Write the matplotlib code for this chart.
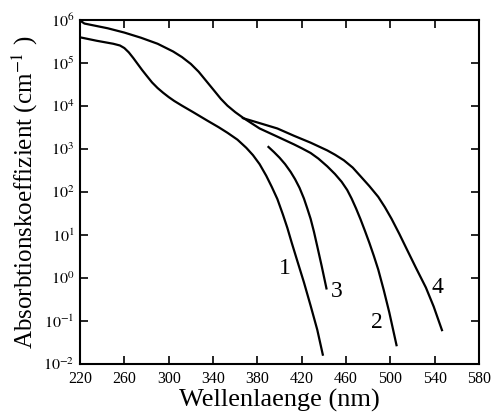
import numpy as np
import matplotlib
matplotlib.use('Agg')
import matplotlib.pyplot as plt
from matplotlib.ticker import FixedLocator, NullLocator, FuncFormatter

plt.rcParams['font.family'] = ['Liberation Serif', 'DejaVu Serif']
plt.rcParams['mathtext.fontset'] = 'stix'

# curve 1 (wavelength nm, log10 of absorption coefficient)
wl1 = [220, 235, 250, 256, 260, 264, 268, 272, 276, 280, 285, 290, 295, 300, 305, 312, 322, 335, 345,
       353, 362, 370, 376, 382, 388, 393, 398, 403, 407, 411, 416, 422, 428, 434, 439]
lg1 = [5.60, 5.52, 5.45, 5.41, 5.35, 5.25, 5.12, 4.98, 4.84, 4.71, 4.55, 4.42, 4.31, 4.21, 4.12, 4.01, 3.86, 3.66, 3.51,
       3.38, 3.22, 3.03, 2.86, 2.65, 2.38, 2.12, 1.84, 1.48, 1.17, 0.82, 0.40, -0.10, -0.64, -1.20, -1.78]

# curve 2
wl2 = [220, 224, 245, 260, 275, 290, 304, 312, 320, 327, 334, 341, 347, 353, 360, 367, 382, 398,
       413, 420, 428, 435, 443, 450, 456, 461, 465, 469, 473, 477, 481, 485, 489, 494, 499, 505.5]
lg2 = [5.99, 5.92, 5.81, 5.71, 5.59, 5.45, 5.27, 5.14, 4.98, 4.80, 4.58, 4.36, 4.17, 4.01, 3.86, 3.73, 3.48, 3.29,
       3.11, 3.02, 2.91, 2.78, 2.60, 2.42, 2.24, 2.05, 1.85, 1.62, 1.37, 1.10, 0.82, 0.52, 0.20, -0.28, -0.80, -1.56]

# curve 3
wl3 = [390, 395, 400, 405, 410, 414, 418, 422, 425, 428, 431, 434, 438, 442.3]
lg3 = [3.05, 2.93, 2.80, 2.65, 2.47, 2.30, 2.10, 1.85, 1.62, 1.38, 1.08, 0.74, 0.28, -0.24]

# curve 4
wl4 = [367, 380, 398, 413, 428, 443, 450, 458, 466, 473, 481, 489, 495, 501, 508, 515, 523, 532, 539, 546.5]
lg4 = [3.72, 3.62, 3.48, 3.31, 3.15, 2.97, 2.87, 2.74, 2.57, 2.37, 2.14, 1.89, 1.65, 1.38, 1.03, 0.66, 0.24, -0.22, -0.66, -1.21]

xticks = [220, 260, 300, 340, 380, 420, 460, 500, 540, 580]
yticks = [1e-2, 1e-1, 1e0, 1e1, 1e2, 1e3, 1e4, 1e5, 1e6]

fig = plt.figure(figsize=(4.97, 4.19), dpi=100)
ax = fig.add_axes([0.161, 0.131, 0.803, 0.821])

for wl, lg in [(wl1, lg1), (wl2, lg2), (wl3, lg3), (wl4, lg4)]:
    ax.plot(wl, 10 ** np.array(lg), color='black', lw=1.6)

ax.set_yscale('log')
ax.set_xlim(220, 580)
ax.set_ylim(1e-2, 1e6)
ax.xaxis.set_major_locator(FixedLocator(xticks))
ax.yaxis.set_major_locator(FixedLocator(yticks))
ax.yaxis.set_minor_locator(NullLocator())
ax.yaxis.set_major_formatter(FuncFormatter(lambda v, p: r'$10^{%d}$' % round(np.log10(v))))
ax.tick_params(direction='in', length=6, width=1.2, labelsize=11.5,
               top=True, right=True)
ax.tick_params(axis='x', pad=5)
ax.tick_params(axis='y', pad=4)
for s in ax.spines.values():
    s.set_linewidth(1.5)

ax.set_xlabel('Wellenlaenge (nm)', fontsize=19, labelpad=1)
ax.set_ylabel('Absorbtionskoeffizient (cm$^{-1}$ )', fontsize=18, labelpad=2)

for lab, x, y in [('1', 404.5, 1.71), ('3', 452, 0.50), ('2', 488, 0.095), ('4', 542, 0.62)]:
    ax.text(x, y, lab, fontsize=17, ha='center', va='center')

fig.savefig('out.png', dpi=100)
